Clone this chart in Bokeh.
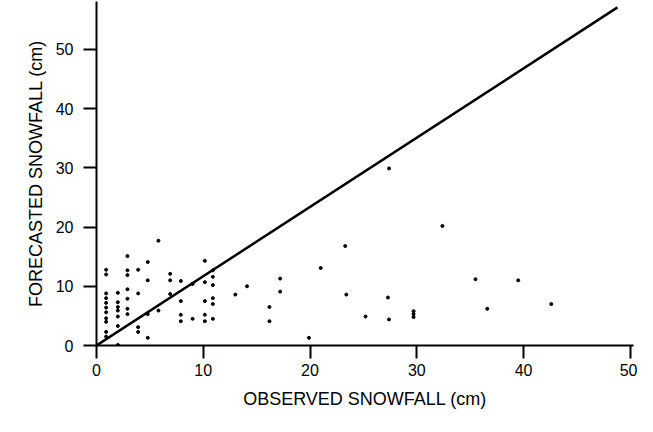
from bokeh.plotting import figure
from bokeh.models import Range1d, FixedTicker, Title
from bokeh.embed import file_html
from bokeh.resources import INLINE

# Observed (x) and forecasted (y) snowfall in cm
observed = [
    0.9, 0.9, 0.9, 0.9, 0.9, 0.9, 0.9, 0.9, 0.9, 0.9, 0.9,
    2.0, 2.0, 2.0, 2.0, 2.0, 2.0, 2.0,
    2.9, 2.9, 2.9, 2.9, 2.9, 2.9, 2.9,
    3.9, 3.9, 3.9, 3.9,
    4.8, 4.8, 4.8, 4.8,
    5.8, 5.8,
    6.9, 6.9, 6.9,
    7.9, 7.9, 7.9, 7.9,
    9.0, 9.0,
    10.15, 10.15, 10.15, 10.15, 10.15,
    10.9, 10.9, 10.9, 10.9, 10.9, 10.9,
    13.0, 14.1, 16.2, 16.2, 17.2, 17.2, 19.9, 21.0, 23.3, 23.4,
    25.2, 27.3, 27.4, 27.4, 29.7, 29.7, 29.7,
    32.4, 35.5, 36.6, 39.5, 42.6,
]
forecast = [
    12.8, 12.0, 8.8, 8.0, 7.2, 6.4, 5.6, 4.6, 4.0, 2.3, 1.5,
    8.9, 7.3, 6.5, 5.9, 4.9, 3.3, 0.1,
    15.1, 12.7, 11.9, 9.5, 7.9, 6.2, 5.3,
    12.8, 8.8, 3.1, 2.3,
    14.1, 11.0, 5.3, 1.3,
    17.7, 5.9,
    12.1, 11.0, 8.7,
    10.9, 7.5, 5.2, 4.1,
    10.4, 4.5,
    14.3, 10.7, 7.5, 5.2, 4.1,
    12.7, 11.6, 10.2, 8.0, 7.0, 4.5,
    8.6, 10.0, 6.5, 4.1, 11.3, 9.1, 1.3, 13.1, 16.8, 8.6,
    4.9, 8.1, 4.4, 29.9, 5.8, 5.3, 4.8,
    20.2, 11.2, 6.2, 11.0, 7.0,
]

# Reference line as drawn
line_x = [0, 48.8]
line_y = [0, 57.1]

x_ticks = [0, 10, 20, 30, 40, 50]
y_ticks = [0, 10, 20, 30, 40, 50]

x_title = "OBSERVED SNOWFALL (cm)"
y_title = "FORECASTED SNOWFALL (cm)"

p = figure(width=637, height=415, output_backend="svg", toolbar_location=None,
           x_range=Range1d(0, 50.3), y_range=Range1d(0, 58.1),
           min_border_left=96, min_border_right=4, min_border_top=1,
           min_border_bottom=70)
p.outline_line_color = None
p.xgrid.visible = False
p.ygrid.visible = False
p.background_fill_color = "white"
p.border_fill_color = "white"

for ax in (p.xaxis[0], p.yaxis[0]):
    ax.axis_line_color = "black"
    ax.axis_line_width = 2
    ax.major_tick_line_color = "black"
    ax.major_tick_line_width = 2
    ax.major_tick_out = 13
    ax.major_tick_in = 0
    ax.minor_tick_line_color = None
    ax.major_label_text_font = "Liberation Sans"
    ax.major_label_text_font_size = "16px"
    ax.major_label_text_color = "black"
    ax.axis_label_text_font = "Liberation Sans"
    ax.axis_label_text_font_size = "18px"
    ax.axis_label_text_font_style = "normal"
    ax.axis_label_text_color = "black"

p.xaxis.ticker = FixedTicker(ticks=x_ticks)
p.yaxis.ticker = FixedTicker(ticks=y_ticks)
p.xaxis.axis_label = x_title
p.xaxis.major_label_standoff = 5
p.yaxis.major_label_standoff = 10
p.xaxis.axis_label_standoff = 10

# y title as a side title so it can sit a little below the frame centre
p.add_layout(Title(text=y_title, align="center", offset=-19, standoff=14,
                   text_font="Liberation Sans", text_font_size="18px",
                   text_font_style="normal", text_color="black"), "left")

p.line(line_x, line_y, line_color="black", line_width=2.5)
p.scatter(observed, forecast, marker="circle", size=3, color="black")

open("out.html", "w").write(file_html(p, INLINE))
